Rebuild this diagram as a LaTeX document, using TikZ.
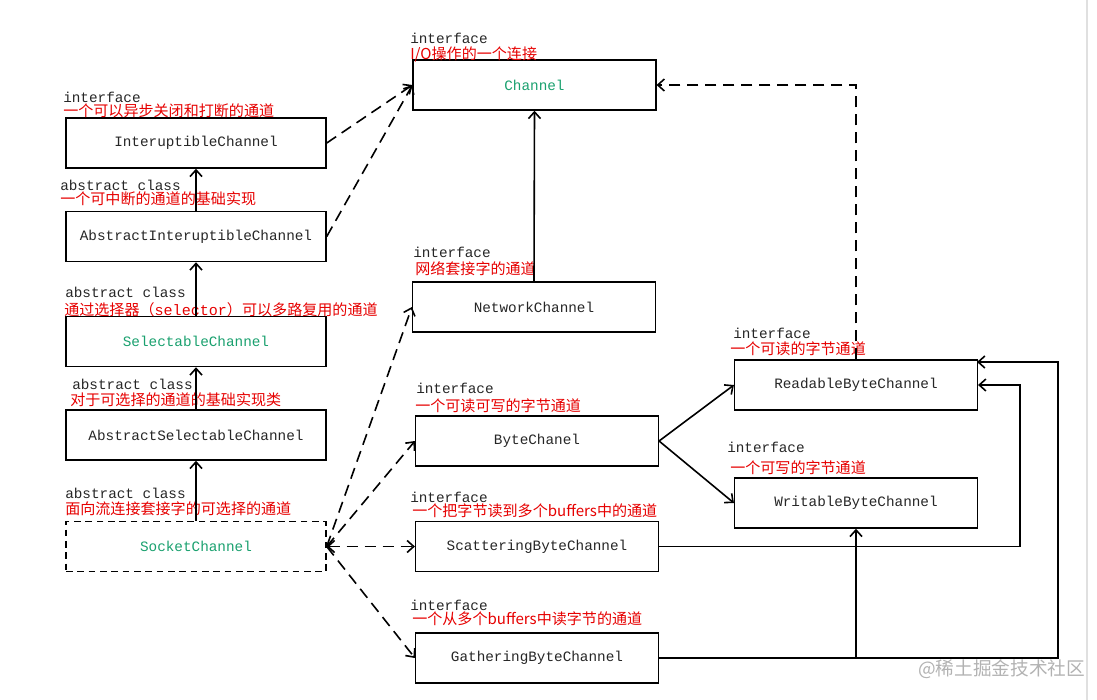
\documentclass[tikz,border=0pt]{standalone}
\usepackage{fontspec}
\setmonofont{Liberation Mono}
\newfontfamily\cjk{Noto Sans CJK SC}
\usetikzlibrary{arrows.meta}
\definecolor{lbl}{RGB}{230,0,0}
\definecolor{grn}{RGB}{25,160,110}
\begin{document}
\begin{tikzpicture}[x=0.75pt,y=-0.75pt,
  box/.style={draw, line width=1.1pt, minimum height=37.5pt, inner sep=0pt,
    font=\ttfamily\fontsize{10.75}{12}\selectfont, text=black!85},
  wide/.style={minimum width=195pt},
  mid/.style={minimum width=182pt},
  kind/.style={anchor=base west, inner sep=0pt, font=\ttfamily\fontsize{10.75}{12}\selectfont, text=black!85},
  note/.style={anchor=base west, inner sep=0pt, font=\cjk\fontsize{11.3}{12}\selectfont, text=lbl},
  inh/.style={line width=1.2pt, -{Straight Barb[length=5pt,width=9pt]}},
  dep/.style={line width=1.2pt, dash pattern=on 8.5pt off 5pt, -{Straight Barb[length=5pt,width=9pt]}}
]
\useasboundingbox (0,0) rectangle (1097,700);
\draw[black!12, line width=0.8pt] (1087,0) -- (1087,700);

% nodes
\node[box,mid,text=grn] (chan) at (534.5,85) {Channel};
\node[box,wide] (intr) at (196,143) {InteruptibleChannel};
\node[box,wide] (absintr) at (196,236.5) {AbstractInteruptibleChannel};
\node[box,wide,text=grn] (sel) at (196,341.5) {SelectableChannel};
\node[box,wide] (abssel) at (196,435) {AbstractSelectableChannel};
\node[box,wide,dash pattern=on 5pt off 3.5pt,text=grn] (sock) at (196,546.5) {SocketChannel};
\node[box,mid] (net) at (534,307) {NetworkChannel};
\node[box,mid] (byte) at (537,441) {ByteChanel};
\node[box,mid] (scat) at (537,546.5) {ScatteringByteChannel};
\node[box,mid] (gath) at (537,658) {GatheringByteChannel};
\node[box,mid] (read) at (856,385) {ReadableByteChannel};
\node[box,mid] (writ) at (856,503) {WritableByteChannel};

% labels
\node[kind] (k1) at (410,43) {interface};
\node[note] (n1) at (410,59) {I/O操作的一个连接};
\node[kind] (k2) at (63,102) {interface};
\node[note] (n2) at (63,116) {一个可以异步关闭和打断的通道};
\node[kind] (k3) at (60,190) {abstract class};
\node[note] (n3) at (60,204) {一个可中断的通道的基础实现};
\node[kind] (k4) at (65,297) {abstract class};
\node[note] (n4) at (64,315) {通过选择器（{\ttfamily selector}）可以多路复用的通道};
\node[kind] (k5) at (72,389) {abstract class};
\node[note] (n5) at (70,405) {对于可选择的通道的基础实现类};
\node[kind] (k6) at (65,498) {abstract class};
\node[note] (n6) at (65,514) {面向流连接套接字的可选择的通道};
\node[kind] (k7) at (413,257) {interface};
\node[note] (n7) at (415,274) {网络套接字的通道};
\node[kind] (k8) at (416,393) {interface};
\node[note] (n8) at (415,411) {一个可读可写的字节通道};
\node[kind] (k9) at (410,502) {interface};
\node[note] (n9) at (412,516) {一个把字节读到多个buffers中的通道};
\node[kind] (k10) at (410,610) {interface};
\node[note] (n10) at (412,624) {一个从多个buffers中读字节的通道};
\node[kind] (k11) at (733,338) {interface};
\node[note] (n11) at (730,354) {一个可读的字节通道};
\node[kind] (k12) at (727,452) {interface};
\node[note] (n12) at (730,473) {一个可写的字节通道};

% watermark
\node[anchor=base west, inner sep=0pt, font=\cjk\fontsize{14}{15}\selectfont, text=black!30] (wm) at (918,675) {@稀土掘金技术社区};

% connectors
\draw[dep] (intr.east) -- (chan.west);
\draw[dep] (absintr.east) -- (chan.west);
\draw[inh] (absintr.north) -- (intr.south);
\draw[inh] (sel.north) -- (absintr.south);
\draw[inh] (abssel.north) -- (sel.south);
\draw[inh] (sock.north) -- (abssel.south);
\draw[inh] (net.north) -- (chan.south);
\draw[dep] (sock.east) -- (net.west);
\draw[dep] (sock.east) -- (byte.west);
\draw[dep,{Straight Barb[length=5pt,width=9pt]}-{Straight Barb[length=5pt,width=9pt]}] (sock.east) -- (scat.west);
\draw[dep] (sock.east) -- (gath.west);
\draw[inh] (byte.east) -- (read.west);
\draw[inh] (byte.east) -- (writ.west);
\draw[dep] (read.north) |- (chan.east);
\coordinate (sc) at (1020,546.5);
\draw[inh] (scat.east) -- (sc) |- (read.east);
\coordinate (gc) at (1058,658);
\coordinate (rt) at (977,362);
\draw[inh] (gath.east) -- (gc) |- (rt);
\draw[inh] (writ.south |- gath.east) -- (writ.south);
\end{tikzpicture}
\end{document}
